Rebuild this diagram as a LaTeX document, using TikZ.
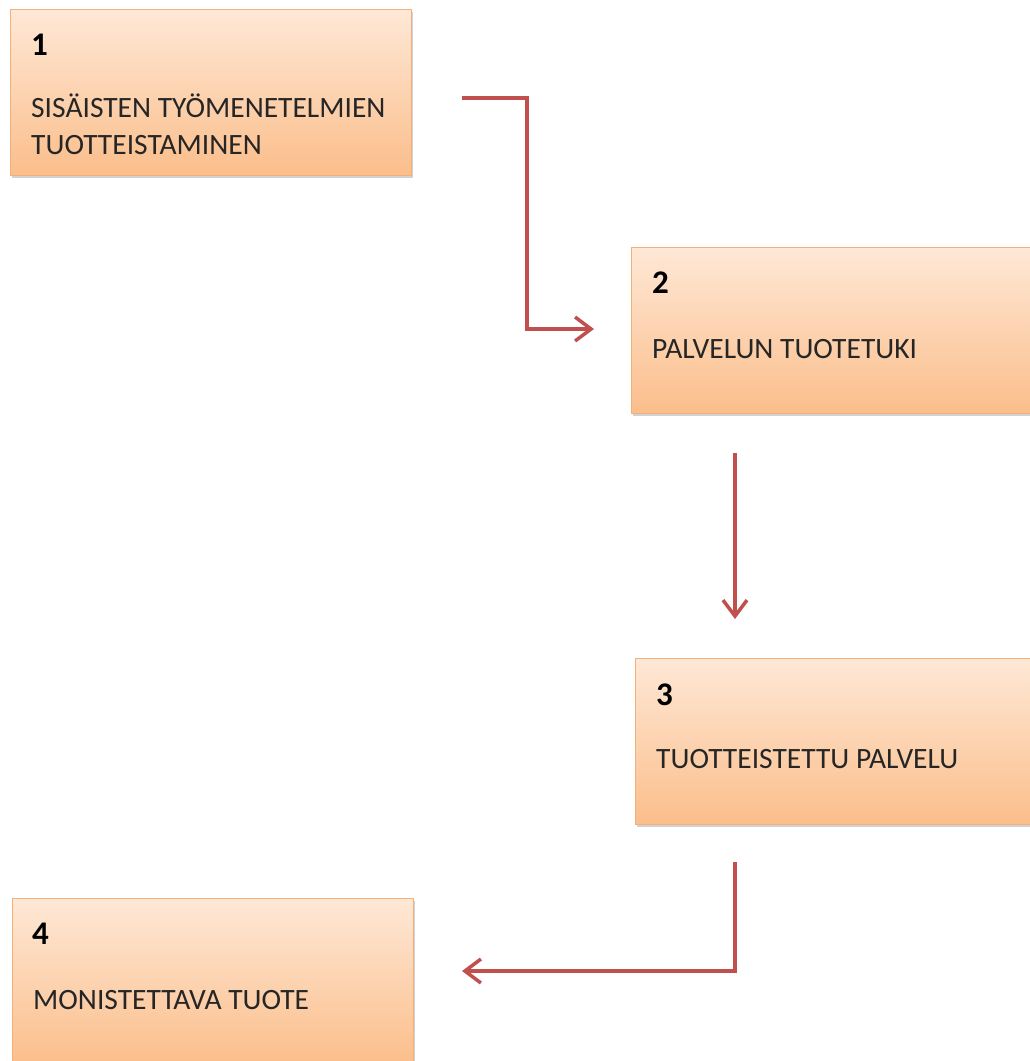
\documentclass[tikz,border=0pt]{standalone}
\usepackage{fontspec}
\setmainfont{Carlito}
\usetikzlibrary{arrows.meta,shadows}
\definecolor{boxtop}{HTML}{FEE8D6}
\definecolor{boxbot}{HTML}{FBBE8B}
\definecolor{boxline}{HTML}{F4B07A}
\definecolor{arrred}{HTML}{C0504D}
\definecolor{txt}{HTML}{262626}
\tikzset{
  stepbox/.style={draw=boxline, line width=1.2pt, top color=boxtop, bottom color=boxbot,
    minimum width=401pt, minimum height=166pt, inner sep=0pt, anchor=north west,
    drop shadow={shadow xshift=1.5pt, shadow yshift=-2.5pt, fill=black!35, opacity=0.5}},
  numtxt/.style={font=\fontsize{33}{36}\selectfont\bfseries, text=black, anchor=base west, inner sep=0pt},
  bodytxt/.style={font=\fontsize{29.5}{37}\selectfont, text=txt, anchor=base west, inner sep=0pt, align=left},
  arr/.style={draw=arrred, line width=3.5pt, -{Straight Barb[length=16pt,width=24pt,line width=3.5pt]}}
}
\begin{document}
\begin{tikzpicture}[x=1pt,y=-1pt]
\useasboundingbox (0,0) rectangle (1030,1061);
% boxes
\node[stepbox] (b1) at (10,9) {};
\node[stepbox] (b2) at (631,247) {};
\node[stepbox] (b3) at (635,658) {};
\node[stepbox] (b4) at (12,898) {};
% numbers
\node[numtxt] (n1) at (31,55) {1};
\node[numtxt] (n2) at (652,293) {2};
\node[numtxt] (n3) at (656,705) {3};
\node[numtxt] (n4) at (32,944) {4};
% texts
\node[bodytxt] (t1a) at (31,117) {SISÄISTEN TYÖMENETELMIEN};
\node[bodytxt] (t1b) at (31,154) {TUOTTEISTAMINEN};
\node[bodytxt] (t2) at (652,358) {PALVELUN TUOTETUKI};
\node[bodytxt] (t3) at (656,768) {TUOTTEISTETTU PALVELU};
\node[bodytxt] (t4) at (33,1009) {MONISTETTAVA TUOTE};
% connector coordinates
\coordinate (a1s) at (462,98);
\coordinate (a1e) at (594,329);
\coordinate (a2s) at (735,453);
\coordinate (a2e) at (735,619);
\coordinate (a3s) at (735,862);
\coordinate (a3e) at (462,971);
\draw[arr] (a1s) -- (527,98) |- (a1e);
\draw[arr] (a2s) -- (a2e);
\draw[arr] (a3s) |- (a3e);
\end{tikzpicture}
\end{document}
